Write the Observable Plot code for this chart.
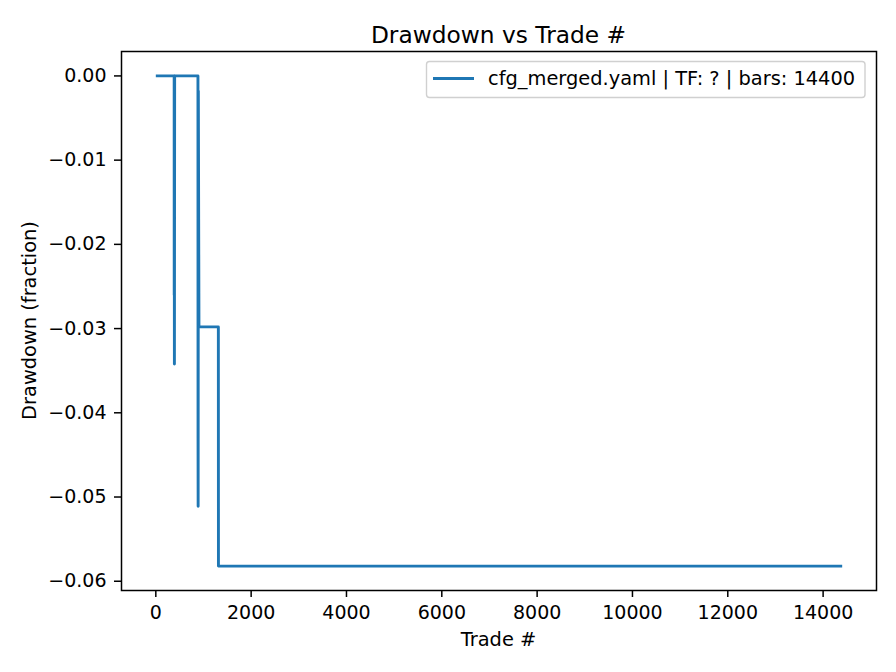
<!DOCTYPE html>
<html>
<head>
<meta charset="utf-8">
<script src="https://cdn.jsdelivr.net/npm/d3@7"></script>
<script src="https://cdn.jsdelivr.net/npm/@observablehq/plot@0.6"></script>
<style>
  html, body { margin: 0; padding: 0; background: #fff; }
  #chart { width: 896px; height: 672px; }
  svg { font-family: "DejaVu Sans", sans-serif; }
</style>
</head>
<body>
<div id="chart"></div>
<script>
const titleText = "Drawdown vs Trade #";
const xLabel = "Trade #";
const yLabel = "Drawdown (fraction)";
const seriesName = "cfg_merged.yaml | TF: ? | bars: 14400";

const trade = [0, 385, 386, 388, 390, 395, 884, 886, 888, 892, 905, 1312, 1314, 14400];
const drawdown = [0, 0, -0.026, -0.017, -0.0342, 0, 0, -0.043, -0.0511, -0.0018, -0.0298, -0.0298, -0.0582, -0.0582];

const xTicks = [0, 2000, 4000, 6000, 8000, 10000, 12000, 14000];
const yTicks = [0, -0.01, -0.02, -0.03, -0.04, -0.05, -0.06];

const data = trade.map((t, i) => ({trade: t, dd: drawdown[i]}));
const color = "#1f77b4";
const font = "DejaVu Sans, sans-serif";

const chart = Plot.plot({
  width: 896,
  height: 672,
  marginLeft: 121,
  marginRight: 20,
  marginTop: 51,
  marginBottom: 82,
  style: {fontFamily: font, fontSize: "19px", color: "#000", background: "#fff"},
  x: {domain: [-720, 15120]},
  y: {domain: [-0.0611, 0.0029]},
  marks: [
    Plot.axisX({ticks: xTicks, tickFormat: d3.format("d"), tickSize: 7, tickPadding: 8, fontSize: 19, strokeWidth: 1.5, label: null}),
    Plot.axisY({ticks: yTicks, tickFormat: d3.format(".2f"), tickSize: 7, tickPadding: 8, fontSize: 19, strokeWidth: 1.5, label: null}),
    Plot.line(data, {x: "trade", y: "dd", stroke: color, strokeWidth: 2.9, curve: "linear", strokeLinejoin: "round", strokeLinecap: "butt"}),
    Plot.frame({stroke: "#000", strokeWidth: 1.5})
  ]
});

document.getElementById("chart").appendChild(chart);

const svg = d3.select(chart);

// Title and axis labels
svg.append("text").attr("x", 498.5).attr("y", 42.5).attr("text-anchor", "middle")
  .attr("font-size", 23.3).attr("font-family", font).attr("fill", "#000").text(titleText);
svg.append("text").attr("x", 498.5).attr("y", 646).attr("text-anchor", "middle")
  .attr("font-size", 19.4).attr("font-family", font).attr("fill", "#000").text(xLabel);
svg.append("text").attr("transform", "translate(36,320.5) rotate(-90)").attr("text-anchor", "middle")
  .attr("font-size", 19.4).attr("font-family", font).attr("fill", "#000").text(yLabel);

// Legend
const lg = svg.append("g");
lg.append("rect").attr("x", 426.5).attr("y", 61.5).attr("width", 438.5).attr("height", 36)
  .attr("rx", 3).attr("fill", "#fff").attr("fill-opacity", 0.8).attr("stroke", "#d0d0d0").attr("stroke-width", 1.4);
lg.append("line").attr("x1", 433).attr("x2", 474).attr("y1", 78.5).attr("y2", 78.5)
  .attr("stroke", color).attr("stroke-width", 2.9);
lg.append("text").attr("x", 488).attr("y", 85).attr("font-size", 19.4).attr("fill", "#000")
  .attr("text-anchor", "start").attr("font-family", font).text(seriesName);
</script>
</body>
</html>
